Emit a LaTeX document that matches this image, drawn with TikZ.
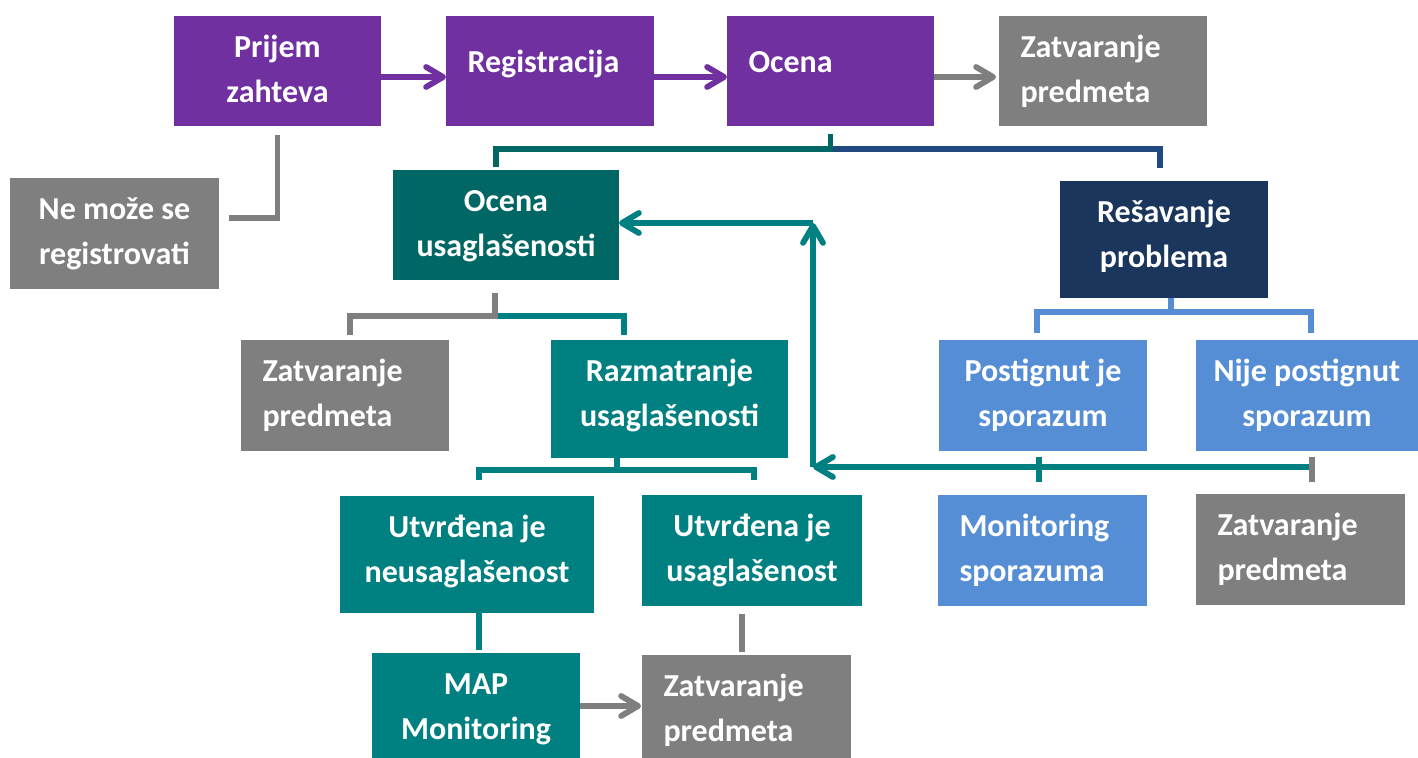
\documentclass[tikz,border=0pt]{standalone}
\usepackage{fontspec}
\setmainfont{Carlito}
\usetikzlibrary{arrows.meta}
\definecolor{cPurple}{HTML}{7030A0}
\definecolor{cGray}{HTML}{7F7F7F}
\definecolor{cTealD}{HTML}{006764}
\definecolor{cTeal}{HTML}{008080}
\definecolor{cNavy}{HTML}{1B365D}
\definecolor{cNavyL}{HTML}{22497F}
\definecolor{cBlue}{HTML}{558ED5}
\newcommand\bxmodec{\centering\rule{0pt}{20.75pt}}
\newcommand\bxmodel{\raggedright\leftskip=10.75pt\relax\rule{0pt}{20.75pt}}
\newcommand\bxmodes{\raggedright\leftskip=10.75pt\relax\rule{0pt}{28.25pt}}
\newcommand\bx[8]{%
  \node[bxs, fill=#6] (#1) at (#2,#3)
  {\parbox[t][\dimexpr(#5pt-#3pt)/2\relax][t]{\dimexpr(#4pt-#2pt)/2\relax}{\csname bxmode#7\endcsname #8\par}};}
\tikzset{
  bxs/.style={anchor=north west, inner sep=0pt, outer sep=0pt, minimum width=0pt, minimum height=0pt,
    text=white, font=\fontsize{16}{22.5}\selectfont\bfseries},
  ln/.style={line width=2.9pt},
  lnP/.style={ln, draw=cPurple},
  lnG/.style={ln, draw=cGray},
  lnT/.style={ln, draw=cTeal},
  lnTD/.style={ln, draw=cTealD},
  lnN/.style={ln, draw=cNavyL},
  lnB/.style={ln, draw=cBlue},
  arr/.style={-{Straight Barb[length=8.5pt,width=10pt,round]}}
}
\begin{document}
\begin{tikzpicture}[x=0.5pt,y=-0.5pt]
\useasboundingbox (0,0) rectangle (1418,758);
% boxes
\bx{prijem}{174}{16}{381}{126}{cPurple}{c}{Prijem\\zahteva}
\bx{reg}{446}{16}{654}{126}{cPurple}{s}{Registracija}
\bx{ocena}{727}{16}{934}{126}{cPurple}{s}{Ocena}
\bx{zatvA}{999}{16}{1207}{126}{cGray}{l}{Zatvaranje\\predmeta}
\bx{nemoze}{10}{178}{219}{289}{cGray}{c}{Ne može se\\registrovati}
\bx{ocenaus}{393}{170}{619}{280}{cTealD}{c}{Ocena\\usaglašenosti}
\bx{resav}{1060}{181}{1268}{298}{cNavy}{c}{Rešavanje\\problema}
\bx{zatvB}{241}{340}{449}{451}{cGray}{l}{Zatvaranje\\predmeta}
\bx{razm}{551}{340}{788}{458}{cTeal}{c}{Razmatranje\\usaglašenosti}
\bx{postig}{939}{340}{1147}{451}{cBlue}{c}{Postignut je\\sporazum}
\bx{nije}{1196}{340}{1418}{451}{cBlue}{c}{Nije postignut\\sporazum}
\bx{utvneus}{340}{496}{594}{613}{cTeal}{c}{Utvrđena je\\neusaglašenost}
\bx{utvus}{642}{495}{862}{606}{cTeal}{c}{Utvrđena je\\usaglašenost}
\bx{monit}{938}{495}{1147}{606}{cBlue}{l}{Monitoring\\sporazuma}
\bx{zatvC}{1196}{494}{1405}{605}{cGray}{l}{Zatvaranje\\predmeta}
\bx{map}{372}{653}{580}{758}{cTeal}{c}{MAP\\Monitoring}
\bx{zatvD}{642}{655}{851}{758}{cGray}{l}{Zatvaranje\\predmeta}
% top row arrows
\draw[lnP, arr] ([shift={(0,6)}]prijem.east) -- ([shift={(0,6)}]reg.west);
\draw[lnP, arr] ([shift={(0,6)}]reg.east) -- ([shift={(0,6)}]ocena.west);
\draw[lnG, arr] ([shift={(0,6)}]ocena.east) -- ([shift={(-3,6)}]zatvA.west);
% prijem -> ne moze
\draw[lnG] ([shift={(0,9)}]prijem.south) |- ([shift={(10,-15.5)}]nemoze.east);
% ocena branch
\coordinate (jA) at ([shift={(0,23)}]ocena.south);
\draw[lnN] (jA) -| ([shift={(-4,-13)}]resav.north);
\draw[lnTD] ([shift={(0,8)}]ocena.south) -- (jA) -| ([shift={(-10,-3)}]ocenaus.north);
% ocena usaglasenosti branch
\coordinate (jB) at ([shift={(-11,36)}]ocenaus.south);
\draw[lnT] (jB) -| ([shift={(-45.5,-5)}]razm.north);
\draw[lnG] ([shift={(-11,13)}]ocenaus.south) -- (jB) -| ([shift={(5,-5)}]zatvB.north);
% razmatranje branch
\coordinate (jC) at ([shift={(-52.5,12)}]razm.south);
\draw[lnT] ([shift={(-52.5,0)}]razm.south) -- (jC) -| ([shift={(12,-16)}]utvneus.north);
\draw[lnT] (jC) -| ([shift={(2,-15)}]utvus.north);
% resavanje branch
\coordinate (jD) at ([shift={(7,14)}]resav.south);
\draw[lnB] ([shift={(7,0)}]resav.south) -- (jD) -| ([shift={(-6,-7)}]postig.north);
\draw[lnB] (jD) -| ([shift={(4,-7)}]nije.north);
% feedback loop
\coordinate (fA) at ([shift={(5,16)}]nije.south);
\coordinate (fB) at (813,467);
\coordinate (fC) at (813,223);
\draw[lnT, arr] (fA) -- (fB);
\draw[lnT, arr] (fB) -- (fC);
\draw[lnT, arr] (fC) -- (fC -| ocenaus.east);
% ticks
\draw[lnT] ([shift={(-4,6)}]postig.south) -- ([shift={(-3.5,-13)}]monit.north);
\draw[lnG] ([shift={(5,6)}]nije.south) -- ([shift={(11.5,-12)}]zatvC.north);
% bottom
\draw[lnT] ([shift={(12,0)}]utvneus.south) -- ([shift={(3,-3)}]map.north);
\draw[lnG] ([shift={(-10,8)}]utvus.south) -- ([shift={(-4.5,-3)}]zatvD.north);
\draw[lnG, arr] ([shift={(0,0.5)}]map.east) -- ([shift={(-1,-0.5)}]zatvD.west);
\end{tikzpicture}
\end{document}
